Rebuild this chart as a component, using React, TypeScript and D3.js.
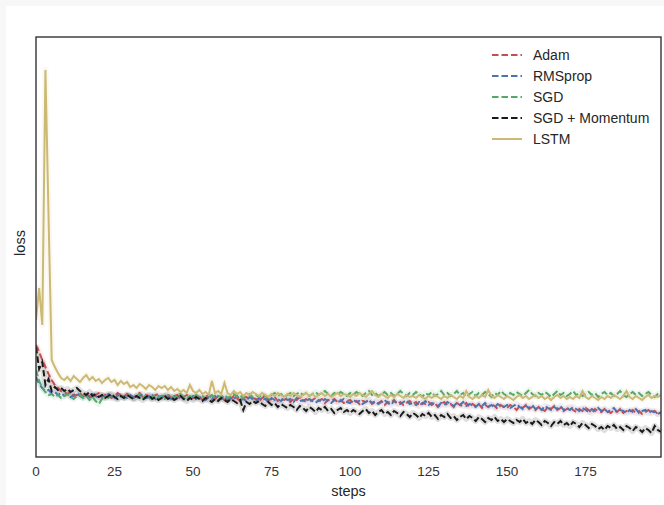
import React from 'react';
import * as d3 from 'd3';

// loss per step (0..199)
const adam = [
  1.12, 1.05, 0.97, 0.90, 0.83, 0.77, 0.72, 0.69, 0.66, 0.65,
  0.63, 0.65, 0.61, 0.62, 0.64, 0.60, 0.63, 0.61, 0.59, 0.62,
  0.64, 0.60, 0.62, 0.63, 0.59, 0.61, 0.64, 0.62, 0.60, 0.63,
  0.61, 0.59, 0.62, 0.64, 0.60, 0.62, 0.61, 0.58, 0.62, 0.63,
  0.60, 0.61, 0.63, 0.59, 0.61, 0.62, 0.58, 0.60, 0.62, 0.61,
  0.59, 0.61, 0.60, 0.57, 0.60, 0.62, 0.59, 0.58, 0.61, 0.59,
  0.57, 0.60, 0.58, 0.61, 0.59, 0.56, 0.59, 0.60, 0.57, 0.59,
  0.58, 0.56, 0.59, 0.61, 0.57, 0.58, 0.60, 0.56, 0.58, 0.57,
  0.59, 0.55, 0.58, 0.57, 0.60, 0.56, 0.58, 0.55, 0.57, 0.59,
  0.56, 0.58, 0.54, 0.57, 0.56, 0.58, 0.55, 0.57, 0.54, 0.56,
  0.57, 0.54, 0.56, 0.53, 0.56, 0.55, 0.57, 0.53, 0.55, 0.54,
  0.56, 0.52, 0.55, 0.54, 0.57, 0.53, 0.55, 0.52, 0.54, 0.56,
  0.53, 0.55, 0.51, 0.54, 0.53, 0.55, 0.52, 0.54, 0.50, 0.53,
  0.55, 0.52, 0.53, 0.50, 0.54, 0.52, 0.51, 0.54, 0.50, 0.53,
  0.51, 0.53, 0.49, 0.52, 0.50, 0.53, 0.51, 0.48, 0.52, 0.50,
  0.49, 0.52, 0.50, 0.47, 0.51, 0.49, 0.52, 0.48, 0.50, 0.47,
  0.50, 0.48, 0.46, 0.50, 0.48, 0.51, 0.47, 0.49, 0.46, 0.48,
  0.50, 0.47, 0.45, 0.48, 0.46, 0.49, 0.47, 0.44, 0.48, 0.46,
  0.45, 0.48, 0.46, 0.44, 0.47, 0.45, 0.48, 0.44, 0.46, 0.45,
  0.47, 0.44, 0.46, 0.43, 0.45, 0.47, 0.44, 0.46, 0.43, 0.44
];

const rmsprop = [
  0.80, 0.73, 0.69, 0.66, 0.67, 0.64, 0.65, 0.62, 0.64, 0.61,
  0.63, 0.60, 0.62, 0.64, 0.61, 0.59, 0.62, 0.60, 0.63, 0.61,
  0.59, 0.62, 0.60, 0.63, 0.61, 0.58, 0.62, 0.60, 0.61, 0.59,
  0.62, 0.60, 0.58, 0.61, 0.63, 0.59, 0.60, 0.62, 0.58, 0.61,
  0.59, 0.62, 0.60, 0.58, 0.61, 0.59, 0.62, 0.58, 0.60, 0.59,
  0.61, 0.58, 0.60, 0.59, 0.57, 0.60, 0.58, 0.61, 0.57, 0.59,
  0.60, 0.57, 0.59, 0.58, 0.61, 0.57, 0.58, 0.56, 0.60, 0.58,
  0.56, 0.59, 0.57, 0.58, 0.55, 0.59, 0.57, 0.58, 0.56, 0.59,
  0.57, 0.58, 0.55, 0.59, 0.56, 0.57, 0.55, 0.58, 0.56, 0.54,
  0.57, 0.55, 0.58, 0.56, 0.54, 0.57, 0.55, 0.56, 0.58, 0.55,
  0.54, 0.57, 0.55, 0.56, 0.53, 0.55, 0.57, 0.54, 0.56, 0.53,
  0.55, 0.57, 0.54, 0.52, 0.56, 0.54, 0.53, 0.55, 0.57, 0.53,
  0.54, 0.52, 0.55, 0.53, 0.56, 0.52, 0.54, 0.53, 0.51, 0.54,
  0.52, 0.55, 0.53, 0.51, 0.54, 0.52, 0.55, 0.51, 0.53, 0.52,
  0.50, 0.53, 0.51, 0.54, 0.50, 0.52, 0.49, 0.53, 0.51, 0.50,
  0.52, 0.49, 0.51, 0.53, 0.50, 0.48, 0.51, 0.49, 0.52, 0.48,
  0.50, 0.47, 0.51, 0.49, 0.47, 0.50, 0.48, 0.51, 0.47, 0.49,
  0.47, 0.50, 0.48, 0.46, 0.49, 0.47, 0.45, 0.48, 0.46, 0.49,
  0.46, 0.48, 0.45, 0.47, 0.49, 0.45, 0.47, 0.46, 0.44, 0.47,
  0.45, 0.48, 0.44, 0.46, 0.47, 0.44, 0.46, 0.45, 0.43, 0.45
];

const sgd = [
  0.87, 0.76, 0.69, 0.65, 0.62, 0.63, 0.60, 0.62, 0.59, 0.61,
  0.63, 0.60, 0.58, 0.61, 0.62, 0.59, 0.61, 0.57, 0.60, 0.56,
  0.53, 0.58, 0.61, 0.59, 0.62, 0.60, 0.58, 0.61, 0.59, 0.62,
  0.60, 0.58, 0.61, 0.63, 0.59, 0.61, 0.58, 0.60, 0.62, 0.59,
  0.61, 0.58, 0.62, 0.60, 0.59, 0.61, 0.63, 0.60, 0.58, 0.61,
  0.59, 0.62, 0.60, 0.61, 0.58, 0.60, 0.62, 0.59, 0.61, 0.60,
  0.62, 0.59, 0.61, 0.63, 0.60, 0.62, 0.59, 0.61, 0.63, 0.60,
  0.62, 0.60, 0.63, 0.61, 0.59, 0.62, 0.64, 0.61, 0.63, 0.60,
  0.62, 0.64, 0.61, 0.63, 0.65, 0.62, 0.64, 0.61, 0.63, 0.65,
  0.62, 0.64, 0.66, 0.63, 0.61, 0.64, 0.62, 0.65, 0.63, 0.61,
  0.64, 0.62, 0.65, 0.63, 0.61, 0.64, 0.66, 0.62, 0.64, 0.61,
  0.63, 0.65, 0.62, 0.64, 0.61, 0.63, 0.66, 0.63, 0.61, 0.64,
  0.62, 0.65, 0.63, 0.60, 0.64, 0.62, 0.65, 0.61, 0.63, 0.66,
  0.62, 0.64, 0.61, 0.63, 0.66, 0.62, 0.64, 0.60, 0.63, 0.65,
  0.61, 0.64, 0.62, 0.65, 0.63, 0.60, 0.64, 0.62, 0.66, 0.63,
  0.61, 0.64, 0.62, 0.65, 0.63, 0.61, 0.64, 0.67, 0.63, 0.61,
  0.64, 0.62, 0.65, 0.63, 0.60, 0.63, 0.66, 0.62, 0.64, 0.61,
  0.63, 0.66, 0.62, 0.64, 0.61, 0.63, 0.65, 0.62, 0.64, 0.60,
  0.63, 0.65, 0.62, 0.64, 0.61, 0.63, 0.66, 0.62, 0.60, 0.63,
  0.65, 0.62, 0.64, 0.61, 0.63, 0.65, 0.62, 0.60, 0.63, 0.64
];

const sgdMomentum = [
  1.10, 0.88, 0.95, 0.72, 0.78, 0.66, 0.70, 0.67, 0.69, 0.66,
  0.68, 0.65, 0.67, 0.69, 0.66, 0.64, 0.62, 0.65, 0.61, 0.63,
  0.60, 0.62, 0.59, 0.61, 0.63, 0.60, 0.58, 0.61, 0.59, 0.62,
  0.60, 0.58, 0.61, 0.59, 0.57, 0.60, 0.62, 0.58, 0.60, 0.57,
  0.59, 0.61, 0.58, 0.60, 0.57, 0.59, 0.61, 0.58, 0.56, 0.59,
  0.57, 0.60, 0.58, 0.56, 0.59, 0.57, 0.55, 0.58, 0.56, 0.59,
  0.57, 0.55, 0.58, 0.56, 0.54, 0.57, 0.47, 0.55, 0.53, 0.56,
  0.54, 0.56, 0.53, 0.51, 0.55, 0.52, 0.54, 0.50, 0.53, 0.51,
  0.49, 0.52, 0.50, 0.47, 0.51, 0.49, 0.46, 0.50, 0.48, 0.45,
  0.49, 0.47, 0.50, 0.46, 0.48, 0.44, 0.47, 0.49, 0.45, 0.47,
  0.44, 0.47, 0.45, 0.43, 0.46, 0.48, 0.44, 0.46, 0.42, 0.45,
  0.47, 0.43, 0.45, 0.42, 0.46, 0.44, 0.41, 0.45, 0.43, 0.40,
  0.44, 0.42, 0.39, 0.43, 0.41, 0.44, 0.40, 0.42, 0.38, 0.42,
  0.40, 0.43, 0.39, 0.41, 0.37, 0.40, 0.42, 0.38, 0.41, 0.39,
  0.36, 0.40, 0.38, 0.35, 0.39, 0.37, 0.40, 0.36, 0.38, 0.35,
  0.38, 0.36, 0.34, 0.37, 0.35, 0.38, 0.34, 0.36, 0.33, 0.37,
  0.35, 0.32, 0.36, 0.34, 0.31, 0.35, 0.33, 0.36, 0.32, 0.34,
  0.31, 0.35, 0.33, 0.30, 0.34, 0.32, 0.29, 0.33, 0.31, 0.28,
  0.30, 0.27, 0.31, 0.29, 0.32, 0.28, 0.30, 0.27, 0.31, 0.29,
  0.26, 0.30, 0.28, 0.25, 0.29, 0.27, 0.24, 0.31, 0.27, 0.25
];

const lstm = [
  1.37, 1.69, 1.32, 3.87, 2.40, 0.97, 0.90, 0.84, 0.79, 0.77,
  0.80, 0.76, 0.81, 0.78, 0.75, 0.79, 0.82, 0.77, 0.80, 0.76,
  0.78, 0.74, 0.77, 0.79, 0.75, 0.77, 0.72, 0.76, 0.73, 0.75,
  0.70, 0.72, 0.69, 0.73, 0.71, 0.68, 0.72, 0.70, 0.67, 0.71,
  0.69, 0.71, 0.67, 0.70, 0.66, 0.68, 0.65, 0.67, 0.64, 0.72,
  0.66, 0.64, 0.67, 0.63, 0.65, 0.62, 0.76, 0.64, 0.66, 0.63,
  0.74, 0.64, 0.62, 0.66, 0.63, 0.65, 0.61, 0.64, 0.62, 0.65,
  0.63, 0.61, 0.64, 0.62, 0.60, 0.63, 0.61, 0.64, 0.62, 0.60,
  0.63, 0.61, 0.64, 0.62, 0.60, 0.62, 0.64, 0.61, 0.63, 0.60,
  0.62, 0.64, 0.61, 0.63, 0.60, 0.62, 0.64, 0.61, 0.63, 0.62,
  0.60, 0.63, 0.61, 0.64, 0.62, 0.60, 0.63, 0.66, 0.62, 0.60,
  0.63, 0.61, 0.59, 0.62, 0.60, 0.63, 0.61, 0.59, 0.62, 0.60,
  0.61, 0.59, 0.62, 0.60, 0.58, 0.61, 0.59, 0.62, 0.60, 0.58,
  0.61, 0.59, 0.62, 0.60, 0.58, 0.61, 0.59, 0.66, 0.60, 0.58,
  0.61, 0.59, 0.62, 0.60, 0.67, 0.61, 0.59, 0.62, 0.60, 0.58,
  0.61, 0.59, 0.57, 0.60, 0.62, 0.59, 0.61, 0.58, 0.60, 0.62,
  0.59, 0.61, 0.58, 0.60, 0.57, 0.60, 0.62, 0.59, 0.61, 0.58,
  0.60, 0.58, 0.61, 0.59, 0.66, 0.60, 0.58, 0.61, 0.59, 0.57,
  0.60, 0.58, 0.61, 0.59, 0.62, 0.60, 0.58, 0.61, 0.66, 0.60,
  0.58, 0.61, 0.59, 0.57, 0.60, 0.62, 0.59, 0.61, 0.60, 0.62
];

const seriesNames = ['Adam', 'RMSprop', 'SGD', 'SGD + Momentum', 'LSTM'];
const seriesColors = ['#c44e52', '#4c72b0', '#55a868', '#1a1a1a', '#ccb974'];
const seriesDashed = [true, true, true, true, false];
const seriesValues = [adam, rmsprop, sgd, sgdMomentum, lstm];
const xTicks = [0, 25, 50, 75, 100, 125, 150, 175];

const W = 664;
const H = 505;
const margin = {top: 37, left: 36, right: 3, bottom: 48};
const FONT = '"Liberation Sans", Arial, sans-serif';

export default function App() {
  const pw = W - margin.left - margin.right;
  const ph = H - margin.top - margin.bottom;

  const x = d3.scaleLinear().domain([0, 199]).range([0, pw]);
  const y = d3.scaleLinear().domain([0, 4.2]).range([ph, 0]);

  const line = d3.line<number>().x((d, i) => x(i)).y(d => y(d));

  return (
    <svg width={W} height={H} style={{position: 'absolute', left: 0, top: 0, display: 'block'}} fontFamily={FONT}>
      <rect x={0} y={0} width={W} height={H} fill="#f7f7f7" />
      <rect x={6} y={6} width={W - 6} height={H - 6} fill="#ffffff" />
      <defs>
        <clipPath id="plot-clip">
          <rect x={0} y={0} width={pw} height={ph} />
        </clipPath>
      </defs>
      <g transform={`translate(${margin.left},${margin.top})`}>
        <g clipPath="url(#plot-clip)">
          {seriesValues.map((vals, i) => (
            <path key={'band' + i} d={line(vals) || ''} fill="none" stroke={seriesColors[i]}
              strokeOpacity={i === 3 ? 0.14 : 0.1} strokeWidth={6} strokeLinejoin="round" />
          ))}
          {seriesValues.map((vals, i) => (
            <path key={'line' + i} d={line(vals) || ''} fill="none" stroke={seriesColors[i]}
              strokeWidth={2} strokeDasharray={seriesDashed[i] ? '6.5,3' : undefined} />
          ))}
        </g>
        <rect x={0} y={0} width={pw} height={ph} fill="none" stroke="#333333" strokeWidth={1.4} />

        {xTicks.map(t => (
          <text key={t} x={x(t)} y={ph + 19} textAnchor="middle" fontSize={13.5} fill="#333333">{t}</text>
        ))}
        <text x={pw / 2} y={ph + 39} textAnchor="middle" fontSize={14.5} fill="#262626">steps</text>
        <text transform={`translate(${-11},${ph / 2 - 4}) rotate(-90)`} textAnchor="middle" fontSize={14.5} fill="#262626">loss</text>

        {seriesNames.map((name, i) => (
          <g key={name} transform={`translate(${456},${18 + i * 21})`}>
            <line x1={0} x2={30} y1={0} y2={0} stroke={seriesColors[i]} strokeWidth={2}
              strokeDasharray={seriesDashed[i] ? '6.5,3' : undefined} />
            <text x={41} y={0} dy="0.35em" fontSize={14} fill="#262626">{name}</text>
          </g>
        ))}
      </g>
    </svg>
  );
}
